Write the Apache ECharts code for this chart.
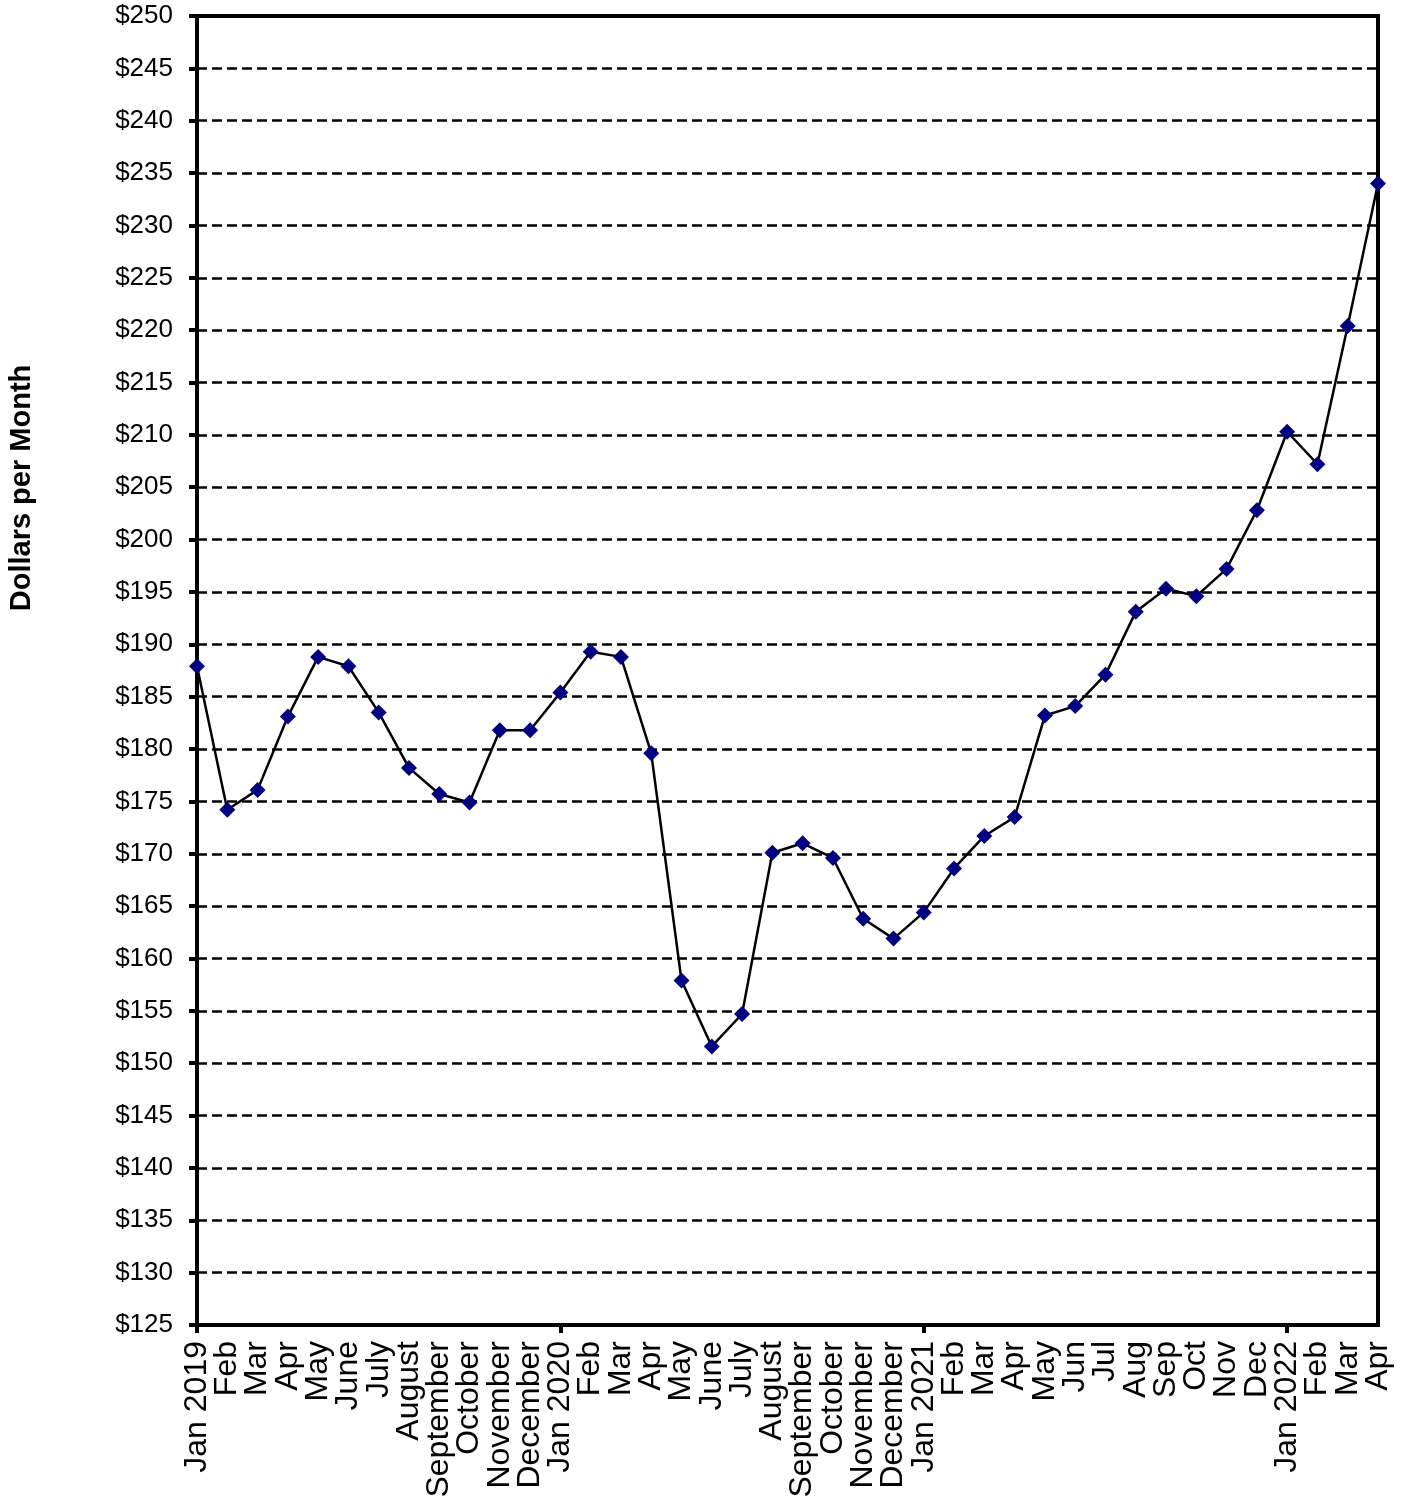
<!DOCTYPE html>
<html>
<head>
<meta charset="utf-8">
<script src="https://cdn.jsdelivr.net/npm/echarts@6/dist/echarts.min.js"></script>
<style>
  html, body { margin: 0; padding: 0; background: #fff; }
  #chart { width: 1406px; height: 1501px; }
</style>
</head>
<body>
<div id="chart"></div>
<script>
// Monthly cost, January 2019 through April 2022
const months = [
  'Jan 2019', 'Feb', 'Mar', 'Apr', 'May', 'June', 'July', 'August', 'September', 'October', 'November', 'December',
  'Jan 2020', 'Feb', 'Mar', 'Apr', 'May', 'June', 'July', 'August', 'September', 'October', 'November', 'December',
  'Jan 2021', 'Feb', 'Mar', 'Apr', 'May', 'Jun', 'Jul', 'Aug', 'Sep', 'Oct', 'Nov', 'Dec',
  'Jan 2022', 'Feb', 'Mar', 'Apr'
];

const dollarsPerMonth = [
  187.9, 174.2, 176.1, 183.1, 188.8, 187.9, 183.5, 178.2, 175.7, 174.9, 181.8, 181.8,
  185.4, 189.3, 188.8, 179.6, 157.9, 151.6, 154.7, 170.1, 171.0, 169.6, 163.8, 161.9,
  164.4, 168.6, 171.7, 173.5, 183.2, 184.1, 187.1, 193.1, 195.3, 194.6, 197.2, 202.8,
  210.3, 207.2, 220.4, 234.0
];

const yMin = 125;
const yMax = 250;
const yStep = 5;

const chart = echarts.init(document.getElementById('chart'), null, { renderer: 'canvas' });

const baseFont = 'Liberation Sans, Arial, Helvetica, sans-serif';

chart.setOption({
  animation: false,
  backgroundColor: '#ffffff',
  grid: {
    left: 197,
    right: 28,
    top: 16,
    bottom: 176,
    show: true,
    borderColor: '#000',
    borderWidth: 4,
    backgroundColor: 'transparent'
  },
  xAxis: {
    type: 'category',
    data: months,
    boundaryGap: false,
    axisLine: { show: true, lineStyle: { color: '#000', width: 4 } },
    axisTick: {
      show: true,
      length: 8,
      lineStyle: { color: '#000', width: 4 },
      // ticks only at the start of each year
      interval: function (index, value) { return value.indexOf('Jan') === 0; }
    },
    axisLabel: {
      interval: 0,
      rotate: 90,
      margin: 16,
      color: '#000',
      fontFamily: baseFont,
      fontSize: 32
    },
    splitLine: { show: false }
  },
  yAxis: {
    type: 'value',
    min: yMin,
    max: yMax,
    interval: yStep,
    axisLine: { show: true, lineStyle: { color: '#000', width: 4 } },
    axisTick: { show: true, inside: false, length: 8, lineStyle: { color: '#000', width: 4 } },
    axisLabel: {
      margin: 24,
      color: '#000',
      fontFamily: baseFont,
      fontSize: 26,
      formatter: function (v) { return '$' + v; }
    },
    splitLine: {
      show: true,
      lineStyle: { color: '#000', width: 2.5, type: [10, 5] }
    }
  },
  graphic: [
    {
      type: 'text',
      x: 22,
      y: 488,
      rotation: Math.PI / 2,
      style: {
        text: 'Dollars per Month',
        font: 'bold 29px ' + baseFont,
        fill: '#000',
        align: 'center',
        verticalAlign: 'middle'
      }
    }
  ],
  series: [
    {
      type: 'line',
      data: dollarsPerMonth,
      symbol: 'diamond',
      symbolSize: 16,
      showAllSymbol: true,
      lineStyle: { color: '#000', width: 2.5 },
      itemStyle: { color: '#000080', borderWidth: 0 },
      z: 5
    }
  ]
});
</script>
</body>
</html>
